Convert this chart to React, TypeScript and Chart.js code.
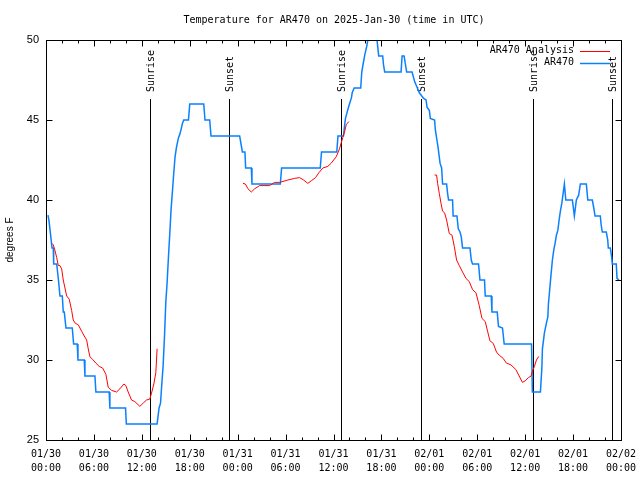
import React, { useEffect, useRef } from "react";
import { Chart, registerables } from "chart.js";

Chart.register(...registerables);

const TITLE = "Temperature for AR470 on 2025-Jan-30 (time in UTC)";
const Y_TITLE = "degrees F";
const X_TICK_DATES = ["01/30", "01/30", "01/30", "01/30", "01/31", "01/31", "01/31", "01/31", "02/01", "02/01", "02/01", "02/01", "02/02"];
const X_TICK_TIMES = ["00:00", "06:00", "12:00", "18:00", "00:00", "06:00", "12:00", "18:00", "00:00", "06:00", "12:00", "18:00", "00:00"];
const X_MIN = 0;
const X_MAX = 72;
const X_MAJOR = 6;
const X_MINOR = 2;
const Y_MIN = 25;
const Y_MAX = 50;
const Y_STEP = 5;

const SERIES_NAMES = ["AR470 Analysis", "AR470"];

// hours since 01/30 00:00 UTC
const OBS_HOURS = [
  0.25, 0.375, 0.625, 0.75, 0.91, 0.96, 1.34, 1.56, 1.75, 2.04, 2.16, 2.29, 2.5, 3.29, 3.46, 3.91, 4.0, 4.79, 4.875, 6.125,
  6.25, 7.91, 8.0, 9.96, 10.06, 13.91, 14.16, 14.34, 14.5, 14.66, 14.84, 15.0, 15.16, 15.34, 15.5, 15.66, 15.84, 16.0, 16.16, 16.34,
  16.59, 16.75, 16.91, 17.09, 17.25, 17.84, 18.0, 19.75, 19.91, 20.5, 20.66, 24.25, 24.59, 24.91, 25.0, 25.71, 25.79, 29.34, 29.5, 34.34,
  34.5, 36.41, 36.56, 37.25, 37.375, 37.5, 37.66, 37.875, 38.0, 38.25, 38.34, 38.59, 39.41, 39.54, 39.71, 39.91, 40.16, 40.41, 40.75, 41.1,
  41.41, 41.66, 42.16, 42.25, 42.41, 44.46, 44.59, 44.84, 45.0, 45.16, 45.84, 46.16, 46.5, 46.75, 47.29, 47.59, 47.71, 48.0, 48.125, 48.66,
  48.75, 49.09, 49.34, 49.54, 49.66, 50.16, 50.29, 50.41, 50.91, 50.98, 51.46, 51.625, 51.84, 52.0, 52.16, 53.09, 53.25, 53.41, 54.16, 54.34,
  54.91, 55.0, 55.75, 55.84, 56.5, 56.66, 57.16, 57.375, 60.8, 60.9, 61.91, 62.09, 62.16, 62.41, 62.66, 62.84, 62.91, 63.09, 63.25, 63.41,
  63.59, 63.75, 63.91, 64.09, 64.25, 64.41, 64.59, 64.75, 64.91, 65.09, 65.91, 66.16, 66.41, 66.7, 66.91, 67.66, 67.84, 68.41, 68.59, 68.75,
  69.41, 69.5, 69.66, 70.16, 70.34, 70.41, 70.66, 70.84, 70.91, 71.41, 71.5, 71.75,
];
const OBS_TEMPS = [
  39.06, 38.7, 37.6, 37.0, 37.0, 36.0, 36.0, 35.0, 34.0, 34.0, 33.0, 33.0, 32.0, 32.0, 31.0, 31.0, 30.0, 30.0, 29.0, 29.0,
  28.0, 28.0, 27.0, 27.0, 26.0, 26.0, 27.0, 27.3, 28.5, 29.6, 31.5, 33.6, 34.8, 36.5, 37.9, 39.4, 40.6, 41.7, 42.7, 43.3,
  43.9, 44.1, 44.4, 44.8, 45.0, 45.0, 46.0, 46.0, 45.0, 45.0, 44.0, 44.0, 43.0, 43.0, 42.0, 42.0, 41.0, 41.0, 42.0, 42.0,
  43.0, 43.0, 44.0, 44.0, 44.6, 45.1, 45.4, 45.8, 46.0, 46.4, 46.7, 47.0, 47.0, 48.0, 48.5, 49.06, 49.6, 50.3, 51.0, 50.8,
  50.2, 49.0, 49.0, 48.5, 48.0, 48.0, 49.0, 49.0, 48.5, 48.0, 48.0, 47.4, 47.0, 46.7, 46.35, 46.25, 45.8, 45.6, 45.1, 45.0,
  44.4, 43.3, 42.3, 42.0, 41.0, 41.0, 40.4, 40.0, 40.0, 39.0, 39.0, 38.2, 38.0, 37.7, 37.0, 37.0, 36.25, 36.0, 36.0, 35.0,
  35.0, 34.0, 34.0, 33.0, 33.0, 32.1, 32.0, 31.0, 31.0, 28.0, 28.0, 29.5, 30.7, 31.7, 32.3, 32.7, 33.5, 34.5, 35.4, 36.25,
  36.9, 37.3, 37.8, 38.1, 38.75, 39.3, 39.8, 40.4, 41.0, 40.0, 40.0, 39.0, 40.0, 40.3, 41.0, 41.0, 40.0, 40.0, 39.5, 39.0,
  39.0, 38.5, 38.0, 38.0, 37.5, 37.0, 37.0, 36.4, 36.0, 36.0, 35.1, 35.0,
];

// analysis series: null marks a gap between runs
const ANA_HOURS = [
  0.71, 0.91, 1.09, 1.34, 1.54, 1.75, 1.96, 2.16, 2.375, 2.59, 2.91, 3.21, 3.41, 3.66, 4.04, 4.46, 4.79, 5.09, 5.29, 5.5,
  5.84, 6.25, 6.66, 7.09, 7.5, 7.79, 8.21, 8.84, 9.25, 9.75, 10.0, 10.29, 10.71, 11.125, 11.75, 12.16, 12.59, 13.0, 13.25, 13.5,
  13.75, 13.84, 13.91,
  19.0,
  24.66, 24.96, 25.29, 25.71, 26.125, 26.75, 28.0, 28.625, 29.25, 30.29, 31.125, 31.75, 32.25, 32.79, 33.21, 33.75, 34.16, 34.66, 35.29, 35.71,
  36.34, 36.75, 37.16, 37.41, 37.59, 37.75, 37.91,
  43.0,
  48.66, 48.91, 49.04, 49.25, 49.46, 49.66, 49.91, 50.16, 50.5, 50.84, 51.125, 51.41, 51.75, 52.16, 52.59, 53.0, 53.41, 53.84, 54.25, 54.59,
  55.0, 55.29, 55.59, 56.0, 56.41, 56.75, 57.25, 57.66, 58.21, 58.84, 59.25, 59.66, 60.0, 60.41, 60.75, 60.91, 61.16, 61.41, 61.66, 61.75,
];
const ANA_TEMPS = [
  37.3, 37.2, 36.9, 36.4, 35.9, 35.9, 35.7, 35.0, 34.5, 34.0, 33.8, 33.1, 32.5, 32.3, 32.2, 31.8, 31.5, 31.25, 30.7, 30.2,
  30.04, 29.8, 29.6, 29.5, 29.1, 28.3, 28.1, 28.0, 28.2, 28.5, 28.4, 28.0, 27.5, 27.4, 27.1, 27.3, 27.5, 27.56, 28.0, 28.5,
  29.2, 30.0, 30.7,
  null,
  41.04, 41.0, 40.7, 40.5, 40.7, 40.9, 40.9, 41.1, 41.1, 41.25, 41.35, 41.4, 41.25, 41.04, 41.2, 41.4, 41.7, 42.0, 42.1, 42.3,
  42.7, 43.2, 43.9, 44.3, 44.7, 44.8, 44.9,
  null,
  41.56, 41.56, 41.04, 40.4, 39.8, 39.3, 39.2, 38.75, 37.9, 37.8, 37.1, 36.25, 35.9, 35.5, 35.1, 34.9, 34.4, 34.2, 33.4, 32.6,
  32.4, 31.8, 31.2, 31.04, 30.5, 30.3, 30.1, 29.8, 29.7, 29.4, 29.0, 28.6, 28.7, 28.9, 29.0, 29.3, 29.6, 30.0, 30.2, 30.2,
];

const SUN_HOURS = [13.06, 22.91, 36.96, 46.94, 60.92, 70.92];
const SUN_LABELS = ["Sunrise", "Sunset", "Sunrise", "Sunset", "Sunrise", "Sunset"];

const RED = "#ff0000";
const BLUE = "#0a80ff";
const MONO = "'DejaVu Sans Mono', 'Liberation Mono', monospace";
const SANS = "'Liberation Sans', Arial, sans-serif";

const toPoints = (xs: number[], ys: (number | null)[]) => xs.map((x, i) => ({ x, y: ys[i] }));

const sunPlugin = {
  id: "sunLines",
  beforeDatasetsDraw(chart: any) {
    const { ctx, chartArea, scales } = chart;
    ctx.save();
    ctx.strokeStyle = "#000";
    ctx.lineWidth = 1;
    ctx.fillStyle = "#000";
    ctx.font = `10px ${MONO}`;
    SUN_HOURS.forEach((h, i) => {
      const x = Math.round(scales.x.getPixelForValue(h)) + 0.5;
      ctx.beginPath();
      ctx.moveTo(x, chartArea.top + 59);
      ctx.lineTo(x, chartArea.bottom);
      ctx.stroke();
      ctx.save();
      ctx.translate(x + 0.5, chartArea.top + 52);
      ctx.rotate(-Math.PI / 2);
      ctx.textAlign = "left";
      ctx.textBaseline = "middle";
      ctx.fillText(SUN_LABELS[i], 0, 0);
      ctx.restore();
    });
    ctx.restore();
  },
};

const framePlugin = {
  id: "gnuFrame",
  afterDatasetsDraw(chart: any) {
    const { ctx, chartArea, scales } = chart;
    const L = Math.round(chartArea.left) + 0.5;
    const R = Math.round(chartArea.right) + 0.5;
    const T = Math.round(chartArea.top) + 0.5;
    const B = Math.round(chartArea.bottom) + 0.5;
    ctx.save();
    ctx.strokeStyle = "#000";
    ctx.lineWidth = 1;
    ctx.beginPath();
    for (let h = X_MIN; h <= X_MAX + 1e-9; h += X_MINOR) {
      const major = Math.abs(h / X_MAJOR - Math.round(h / X_MAJOR)) < 1e-6;
      const len = major ? 6 : 3;
      const x = Math.round(scales.x.getPixelForValue(h)) + 0.5;
      ctx.moveTo(x, B);
      ctx.lineTo(x, B - len);
      ctx.moveTo(x, T);
      ctx.lineTo(x, T + len);
    }
    for (let v = Y_MIN; v <= Y_MAX + 1e-9; v += Y_STEP) {
      const y = Math.round(scales.y.getPixelForValue(v)) + 0.5;
      ctx.moveTo(L, y);
      ctx.lineTo(L + 6, y);
      ctx.moveTo(R, y);
      ctx.lineTo(R - 6, y);
    }
    ctx.stroke();
    ctx.strokeRect(L, T, R - L, B - T);
    ctx.restore();
  },
  afterDraw(chart: any) {
    const { ctx, chartArea } = chart;
    ctx.save();
    ctx.fillStyle = "#000";
    ctx.font = `10px ${MONO}`;
    ctx.textAlign = "center";
    ctx.textBaseline = "middle";
    ctx.fillText(TITLE, (chartArea.left + chartArea.right) / 2 + 0.5, 20);
    ctx.textAlign = "right";
    chart.data.datasets.forEach((ds: any, i: number) => {
      const y = chartArea.top + 10.5 + i * 12;
      ctx.fillStyle = "#000";
      ctx.fillText(ds.label, chartArea.right - 47, y);
      ctx.strokeStyle = ds.borderColor;
      ctx.lineWidth = ds.borderWidth;
      ctx.beginPath();
      ctx.moveTo(chartArea.right - 41, Math.round(y) + 0.5);
      ctx.lineTo(chartArea.right - 11, Math.round(y) + 0.5);
      ctx.stroke();
    });
    ctx.restore();
  },
};

export default function App() {
  const ref = useRef<HTMLCanvasElement | null>(null);
  useEffect(() => {
    document.body.style.margin = "0";
    const canvas = ref.current;
    if (!canvas) return;
    const chart = new Chart(canvas, {
      type: "line",
      data: {
        datasets: [
          {
            label: SERIES_NAMES[0],
            data: toPoints(ANA_HOURS, ANA_TEMPS),
            borderColor: RED,
            backgroundColor: RED,
            borderWidth: 1,
            pointRadius: 0,
            tension: 0,
            spanGaps: false,
          },
          {
            label: SERIES_NAMES[1],
            data: toPoints(OBS_HOURS, OBS_TEMPS),
            borderColor: BLUE,
            backgroundColor: BLUE,
            borderWidth: 1.5,
            pointRadius: 0,
            tension: 0,
          },
        ],
      } as any,
      options: {
        animation: false,
        responsive: false,
        events: [],
        layout: { padding: { left: 0, right: 19, top: 40, bottom: 0 } },
        plugins: { legend: { display: false }, title: { display: false }, tooltip: { enabled: false } },
        scales: {
          x: {
            type: "linear",
            min: X_MIN,
            max: X_MAX,
            grid: { display: false, drawTicks: false },
            border: { display: false },
            afterFit: (s: any) => {
              s.height = 40;
              s.paddingLeft = 0;
              s.paddingRight = 0;
            },
            ticks: {
              stepSize: X_MAJOR,
              autoSkip: false,
              maxRotation: 0,
              padding: 7,
              color: "#000",
              font: { family: MONO, size: 10, lineHeight: 1.4 },
              callback: (v: any) => {
                const i = Math.round(Number(v) / X_MAJOR);
                return [X_TICK_DATES[i], X_TICK_TIMES[i]];
              },
            },
          },
          y: {
            type: "linear",
            min: Y_MIN,
            max: Y_MAX,
            grid: { display: false, drawTicks: false },
            border: { display: false },
            afterFit: (s: any) => {
              s.width = 46;
              s.paddingTop = 0;
              s.paddingBottom = 0;
            },
            title: {
              display: true,
              text: Y_TITLE,
              color: "#000",
              font: { family: SANS, size: 10 },
              padding: { top: 4, bottom: 4 },
            },
            ticks: {
              stepSize: Y_STEP,
              padding: 7,
              color: "#000",
              font: { family: SANS, size: 11 },
            },
          },
        },
      } as any,
      plugins: [sunPlugin, framePlugin],
    });
    return () => chart.destroy();
  }, []);
  return (
    <div style={{ width: 640, height: 480, background: "#fff" }}>
      <canvas ref={ref} width={640} height={480} style={{ display: "block" }} />
    </div>
  );
}
